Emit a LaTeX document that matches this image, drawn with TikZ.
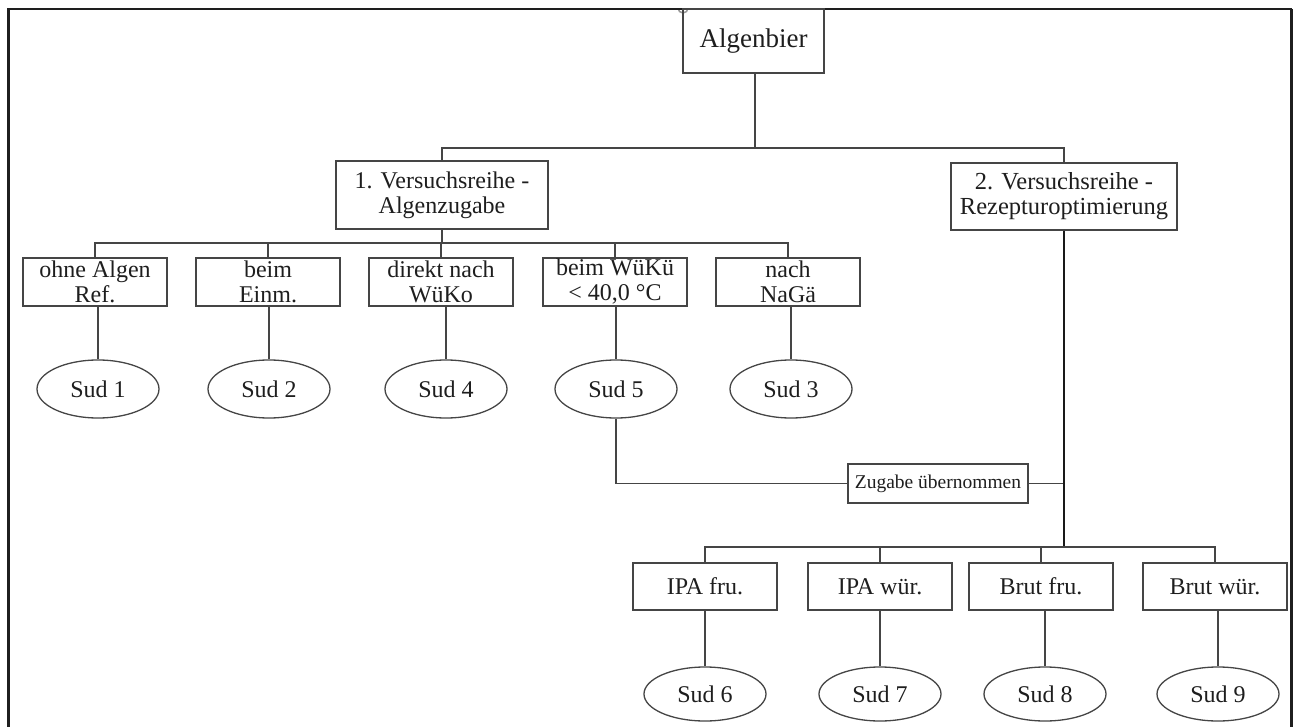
\documentclass[tikz,border=0pt]{standalone}
\usepackage{fontspec}
\setmainfont{Liberation Serif}
\usetikzlibrary{shapes.geometric}
\definecolor{ink}{HTML}{1E1E1E}
\definecolor{lin}{HTML}{454545}
\tikzset{
  box/.style={draw=lin, line width=1.3pt, rectangle, inner sep=0pt, align=center, text=ink},
  sud/.style={draw=lin, line width=1.3pt, ellipse, inner sep=0pt, minimum width=122pt, text=ink, font=\fontsize{24}{25}\selectfont},
  conn/.style={draw=lin, line width=1.3pt},
  thickconn/.style={draw=black!90, line width=2.8pt},
  row/.style={box, minimum width=144pt, minimum height=48pt, font=\fontsize{24}{25}\selectfont},
}
\begin{document}
\begin{tikzpicture}[x=1pt,y=-1pt]
\useasboundingbox (0,0) rectangle (1296,727);
% frame
\begin{scope}
  \clip (670,9) rectangle (700,20);
  \draw[gray!80, line width=1.5pt] (683,8) circle (5);
\end{scope}
\draw[ink, line width=2pt] (7,9) -- (1292,9);
\draw[black!88, line width=3pt] (8,9) -- (8,727);
\draw[black!88, line width=3pt] (1291,9) -- (1291,727);

% root
\node[box, minimum width=141pt, minimum height=64pt, font=\fontsize{27}{28}\selectfont] (alg) at (753.5,41) {Algenbier};

% series
\node[box, minimum width=212pt, minimum height=68pt, font=\fontsize{24}{25}\selectfont] (v1) at (442,195) {1. Versuchsreihe -\\Algenzugabe};
\node[box, minimum width=226pt, minimum height=67pt, font=\fontsize{24.5}{25}\selectfont] (v2) at (1064,196.5) {2. Versuchsreihe -\\Rezepturoptimierung};

% top row
\node[row] (a1) at (95,282) {ohne Algen\\Ref.};
\node[row] (a2) at (268,282) {beim\\Einm.};
\node[row] (a3) at (441,282) {direkt nach\\WüKo};
\node[row] (a4) at (615,282) {beim WüKü\\< 40,0 °C};
\node[row] (a5) at (788,282) {nach\\NaGä};

\node[sud, minimum height=58pt] (s1) at (98,389) {Sud 1};
\node[sud, minimum height=58pt] (s2) at (269,389) {Sud 2};
\node[sud, minimum height=58pt] (s4) at (446,389) {Sud 4};
\node[sud, minimum height=58pt] (s5) at (616,389) {Sud 5};
\node[sud, minimum height=58pt] (s3) at (791,389) {Sud 3};

% transfer
\node[box, minimum width=180pt, minimum height=39pt, font=\fontsize{19.5}{20}\selectfont] (zu) at (938,483.5) {Zugabe übernommen};

% bottom row
\node[row, minimum height=47pt] (b1) at (705,586.5) {IPA fru.};
\node[row, minimum height=47pt] (b2) at (880,586.5) {IPA wür.};
\node[row, minimum height=47pt] (b3) at (1041,586.5) {Brut fru.};
\node[row, minimum height=47pt] (b4) at (1215,586.5) {Brut wür.};

\node[sud, minimum height=54pt] (s6) at (705,694) {Sud 6};
\node[sud, minimum height=54pt] (s7) at (880,694) {Sud 7};
\node[sud, minimum height=54pt] (s8) at (1045,694) {Sud 8};
\node[sud, minimum height=54pt] (s9) at (1218,694) {Sud 9};

% coordinates
\coordinate (h1) at (755,148);
\coordinate (h2) at (442,243);
\coordinate (h3) at (1064,547);

% connectors
\draw[conn] (alg.south -| h1) -- (h1);
\draw[conn] (v1.north) |- (h1) -| (v2.north);
\draw[conn] (v1.south) -- (h2);
\draw[conn] (a1.north) |- (h2) -| (a5.north);
\draw[conn] (a2.north) -- (a2.north |- h2);
\draw[conn] (a3.north) -- (a3.north |- h2);
\draw[conn] (a4.north) -- (a4.north |- h2);
\foreach \a/\s in {a1/s1,a2/s2,a3/s4,a4/s5,a5/s3} \draw[conn] (\a.south -| \s) -- (\s.north);
\draw[conn] (s5.south) |- (zu.west);
\draw[conn] (zu.east) -- (zu.east -| h3);
\draw[thickconn] (v2.south) -- (h3);
\draw[conn] (h3) -| (b1.north);
\draw[conn] (h3) -| (b4.north);
\draw[conn] (b2.north) -- (b2.north |- h3);
\draw[conn] (b3.north) -- (b3.north |- h3);
\foreach \b/\s in {b1/s6,b2/s7,b3/s8,b4/s9} \draw[conn] (\b.south -| \s) -- (\s.north);
\end{tikzpicture}
\end{document}
